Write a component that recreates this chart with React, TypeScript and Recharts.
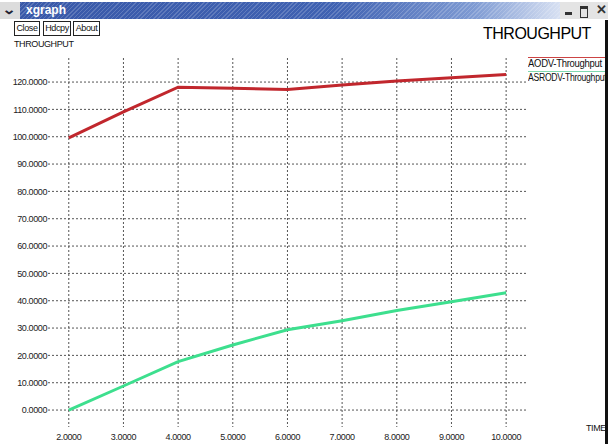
import React from "react";
import { LineChart, Line, XAxis, YAxis, CartesianGrid } from "recharts";

const times = [2, 3, 4, 5, 6, 7, 8, 9, 10];
const aodv = [99.6, 109.1, 118.1, 117.7, 117.3, 118.9, 120.4, 121.6, 122.8];
const asrodv = [0, 8.8, 17.7, 23.8, 29.4, 32.7, 36.4, 39.6, 42.9];
const yTicks = [0, 10, 20, 30, 40, 50, 60, 70, 80, 90, 100, 110, 120];
const buttons = ["Close", "Hdcpy", "About"];
const legendNames = ["AODV-Throughput", "ASRODV-Throughput"];

const data = times.map((t, i) => ({ time: t, aodv: aodv[i], asrodv: asrodv[i] }));

const RED = "#c1272d";
const GREEN = "#3ddf8e";
const FONT = "'Liberation Sans', Arial, Helvetica, sans-serif";

const small: React.CSSProperties = {
  position: "absolute",
  fontFamily: FONT,
  fontSize: 9,
  color: "#111",
  letterSpacing: -0.4,
  whiteSpace: "nowrap",
  lineHeight: "10px",
};

export default function App() {
  return (
    <div style={{ position: "absolute", left: 0, top: 0, width: 608, height: 444, background: "#fff", overflow: "hidden" }}>
      {/* title bar */}
      <div
        style={{
          position: "absolute",
          left: 0,
          top: 2,
          width: 608,
          height: 17,
          background:
            "repeating-linear-gradient(135deg, rgba(255,255,255,0.18) 0 1px, rgba(255,255,255,0) 1px 3px), linear-gradient(to right, #3858a8 0%, #4062b2 55%, #7f9bd3 78%, #d7e0f2 92%, #e6e6e6 100%)",
        }}
      />
      <div style={{ position: "absolute", left: 0, top: 2, width: 20, height: 17, background: "#dcdcdc" }}>
        <div style={{ position: "absolute", left: 4, top: 0, fontFamily: FONT, fontSize: 13, fontWeight: "bold", color: "#223", transform: "scaleX(1.3)" }}>⌄</div>
      </div>
      <div style={{ position: "absolute", left: 26, top: 3, fontFamily: FONT, fontSize: 12, fontWeight: "bold", color: "#fff", lineHeight: "14px" }}>xgraph</div>
      <div style={{ position: "absolute", left: 560, top: 2, width: 48, height: 17, background: "#e4e4e4" }}>
        <div style={{ position: "absolute", left: 5, top: 10, width: 7, height: 3, background: "#333" }} />
        <div style={{ position: "absolute", left: 20, top: 4, width: 6, height: 8, border: "1px solid #333", borderTopWidth: 3 }} />
        <div style={{ position: "absolute", left: 36, top: 0, fontFamily: FONT, fontSize: 13, fontWeight: "bold", color: "#333" }}>✕</div>
      </div>
      {/* buttons */}
      {buttons.map((b, i) => (
        <div
          key={b}
          style={{
            position: "absolute",
            left: [14, 43, 73][i],
            top: 21,
            width: [26, 28, 27][i],
            height: 15,
            border: "1px solid #222",
            boxSizing: "border-box",
            fontFamily: FONT,
            fontSize: 9,
            letterSpacing: -0.4,
            textAlign: "center",
            lineHeight: "13px",
            color: "#111",
          }}
        >
          {b}
        </div>
      ))}
      <div style={{ ...small, left: 14, top: 39 }}>THROUGHPUT</div>
      <div style={{ position: "absolute", left: 483, top: 25, fontFamily: FONT, fontSize: 16, color: "#000", letterSpacing: -0.5, whiteSpace: "nowrap" }}>THROUGHPUT</div>
      {/* legend */}
      <div style={{ position: "absolute", left: 528, top: 57, width: 78, height: 1, background: "#c44" }} />
      <div style={{ ...small, left: 528, top: 58, fontSize: 10, letterSpacing: -0.3, lineHeight: "11px", transform: "scaleX(0.95)", transformOrigin: "left" }}>{legendNames[0]}</div>
      <div style={{ position: "absolute", left: 528, top: 71, width: 78, height: 1, background: "#7fd9b0" }} />
      <div style={{ ...small, left: 528, top: 72, fontSize: 10, letterSpacing: -0.3, lineHeight: "11px", transform: "scaleX(0.86)", transformOrigin: "left" }}>{legendNames[1]}</div>
      <div style={{ ...small, left: 586, top: 423 }}>TIME</div>
      <div style={{ position: "absolute", left: 605, top: 20, width: 3, height: 424, background: "#111" }} />

      <div style={{ position: "absolute", left: 0, top: 0 }}>
        <LineChart width={608} height={444} data={data} margin={{ top: 58, right: 80, bottom: 0, left: 0 }}>
          <CartesianGrid stroke="#555" strokeDasharray="2 2" syncWithTicks />
          <XAxis
            dataKey="time"
            type="number"
            domain={[1.62, 10.4]}
            ticks={times}
            allowDataOverflow
            height={17}
            axisLine={false}
            tickLine={false}
            tickSize={6}
            tickMargin={1}
            tickFormatter={(v: number) => v.toFixed(4)}
            tick={{ fontSize: 9, fill: "#222", fontFamily: FONT, letterSpacing: -0.4 }}
          />
          <YAxis
            type="number"
            domain={[-6.2, 128.8]}
            ticks={yTicks}
            allowDataOverflow
            width={48}
            axisLine={false}
            tickLine={false}
            tickSize={0}
            tickMargin={1}
            tickFormatter={(v: number) => v.toFixed(4)}
            tick={{ fontSize: 9, fill: "#222", fontFamily: FONT, letterSpacing: -0.4 }}
          />
          <Line type="linear" dataKey="aodv" stroke={RED} strokeWidth={3} dot={false} isAnimationActive={false} />
          <Line type="linear" dataKey="asrodv" stroke={GREEN} strokeWidth={3} dot={false} isAnimationActive={false} />
        </LineChart>
      </div>
    </div>
  );
}
